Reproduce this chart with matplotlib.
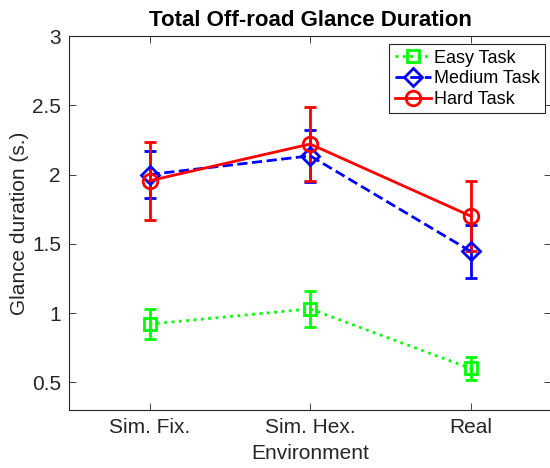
import numpy as np
import matplotlib
matplotlib.use("Agg")
import matplotlib.pyplot as plt
from matplotlib.lines import Line2D

plt.rcParams["font.family"] = ["Liberation Sans", "DejaVu Sans"]

# --- data -------------------------------------------------------------------
envs = ["Sim. Fix.", "Sim. Hex.", "Real"]
easy_mean = [0.92, 1.03, 0.60]
easy_err = [0.11, 0.13, 0.085]
medium_mean = [2.00, 2.135, 1.445]
medium_err = [0.17, 0.19, 0.19]
hard_mean = [1.955, 2.22, 1.70]
hard_err = [0.28, 0.27, 0.255]

x = np.arange(1, len(envs) + 1)
grey = (0.15, 0.15, 0.15)

fig = plt.figure(figsize=(5.5, 4.68), dpi=100)
ax = fig.add_axes([69.3 / 550, 1 - 410 / 468, (551 - 69.3) / 550, (410 - 36) / 468])

series = [
    ("Easy Task", easy_mean, easy_err, (0, 1, 0), ":", "s", 9),
    ("Medium Task", medium_mean, medium_err, (0, 0, 1), "--", "D", 9),
    ("Hard Task", hard_mean, hard_err, (1, 0, 0), "-", "o", 10.5),
]
handles = []
for name, m, e, c, ls, mk, ms in series:
    ax.errorbar(x, m, yerr=e, color=c, ls=ls, lw=2, marker=mk, ms=ms,
                mfc="none", mec=c, mew=2, elinewidth=2, capsize=4.5,
                capthick=2)
    handles.append(Line2D([], [], color=c, ls=ls, lw=2, marker=mk, ms=ms,
                          mfc="none", mec=c, mew=2, label=name))

ax.set_xlim(0.5, 3.5)
ax.set_ylim(0.3, 3)
ax.set_xticks(x)
ax.set_xticklabels(envs)
ax.set_yticks([0.5, 1, 1.5, 2, 2.5, 3])
ax.set_yticklabels(["0.5", "1", "1.5", "2", "2.5", "3"])
ax.tick_params(direction="in", top=True, right=True, length=5, width=0.6,
               colors=grey, labelsize=15, pad=6)
for s in ax.spines.values():
    s.set_color(grey)
    s.set_linewidth(0.8)

ax.set_xlabel("Environment", fontsize=15, color=grey, labelpad=5)
ax.set_ylabel("Glance duration (s.)", fontsize=15, color=grey, labelpad=2)
ax.set_title("Total Off-road Glance Duration", fontsize=16, fontweight="bold",
             pad=7)

leg = ax.legend(handles=handles, loc="upper right",
                bbox_to_anchor=(545 / 550, 1 - 44.3 / 468),
                bbox_transform=fig.transFigure, fontsize=13, fancybox=False,
                edgecolor=grey, framealpha=1, borderaxespad=0, handlelength=2.0,
                handletextpad=0.15, labelspacing=0.2, borderpad=0.3)
leg.get_frame().set_linewidth(0.8)

fig.savefig("out.png", dpi=100)
